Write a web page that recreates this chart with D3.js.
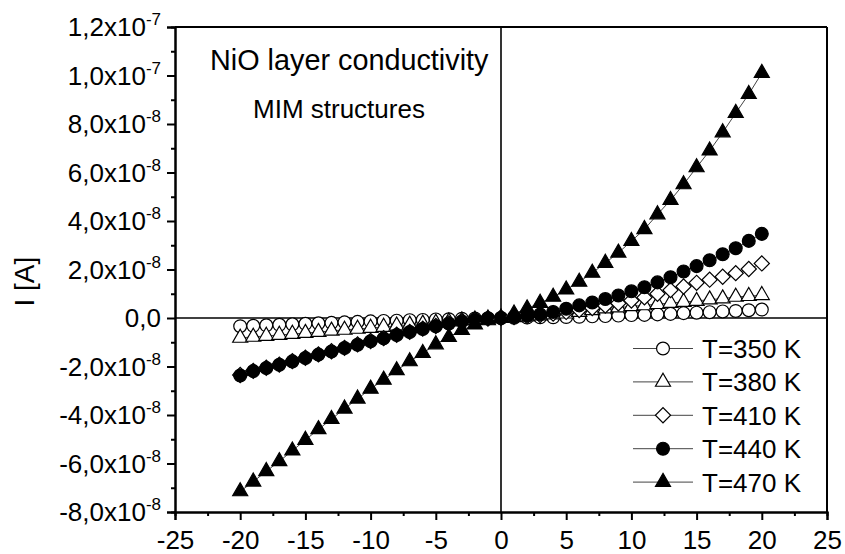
<!DOCTYPE html>
<html>
<head>
<meta charset="utf-8">
<script src="https://cdn.jsdelivr.net/npm/d3@7"></script>
<style>
  body { margin: 0; background: #fff; }
  text { font-family: "Liberation Sans", Arial, sans-serif; fill: #000; }
</style>
</head>
<body>
<div id="chart-area"></div>
<script>
// voltage [V]
let voltage = [-20,-19,-18,-17,-16,-15,-14,-13,-12,-11,-10,-9,-8,-7,-6,-5,-4,-3,-2,-1,0,
  1,2,3,4,5,6,7,8,9,10,11,12,13,14,15,16,17,18,19,20];

// current, in units of 1e-8 A
let i350 = [-0.34,-0.32,-0.30,-0.28,-0.26,-0.24,-0.22,-0.20,-0.18,-0.16,-0.14,-0.12,-0.11,-0.09,-0.08,-0.06,-0.05,-0.03,-0.02,-0.01,0,
  0.01,0.02,0.03,0.03,0.04,0.05,0.07,0.08,0.10,0.12,0.13,0.15,0.17,0.20,0.22,0.24,0.27,0.29,0.32,0.35];
let i380 = [-0.82,-0.78,-0.74,-0.70,-0.66,-0.62,-0.58,-0.53,-0.49,-0.45,-0.41,-0.37,-0.32,-0.28,-0.24,-0.20,-0.15,-0.11,-0.07,-0.03,0,
  0.03,0.06,0.10,0.14,0.18,0.25,0.32,0.39,0.43,0.48,0.52,0.57,0.62,0.66,0.70,0.76,0.80,0.87,0.90,0.94];
let i410 = [-2.35,-2.18,-2.05,-1.92,-1.78,-1.64,-1.50,-1.37,-1.23,-1.09,-0.95,-0.83,-0.69,-0.57,-0.44,-0.33,-0.22,-0.13,-0.07,-0.02,0,
  0.04,0.08,0.12,0.18,0.25,0.33,0.41,0.51,0.61,0.72,0.85,1.00,1.15,1.30,1.45,1.58,1.70,1.85,2.02,2.25];
let i440 = [-2.37,-2.19,-2.06,-1.93,-1.79,-1.65,-1.51,-1.38,-1.24,-1.10,-0.96,-0.84,-0.70,-0.58,-0.45,-0.34,-0.23,-0.14,-0.07,-0.02,0,
  0.04,0.09,0.15,0.25,0.38,0.52,0.64,0.78,0.93,1.10,1.27,1.47,1.68,1.92,2.14,2.38,2.63,2.88,3.18,3.47];
let i470 = [-7.15,-6.75,-6.32,-5.91,-5.47,-5.03,-4.59,-4.17,-3.74,-3.33,-2.92,-2.55,-2.16,-1.79,-1.45,-1.09,-0.79,-0.50,-0.27,-0.10,0,
  0.18,0.39,0.62,0.87,1.17,1.49,1.86,2.27,2.69,3.17,3.66,4.27,4.86,5.51,6.21,6.90,7.65,8.45,9.23,10.1];

let seriesNames = ["T=350 K", "T=380 K", "T=410 K", "T=440 K", "T=470 K"];
let seriesData = [i350, i380, i410, i440, i470];
let seriesSymbol = ["circle", "triangle", "diamond", "circle", "triangle"];
let seriesFilled = [false, false, false, true, true];

let xTicks = [-25,-20,-15,-10,-5,0,5,10,15,20,25];
let yTicks = [-8,-6,-4,-2,0,2,4,6,8,10,12];
let yTickMant = ["-8,0","-6,0","-4,0","-2,0","0,0","2,0","4,0","6,0","8,0","1,0","1,2"];
let yTickExp = ["-8","-8","-8","-8","","-8","-8","-8","-8","-7","-7"];

let width = 845, height = 554;
let margin = {top: 27, right: 18, bottom: 42, left: 175};

let svg = d3.select("#chart-area").append("svg")
  .attr("width", width)
  .attr("height", height);

let x = d3.scaleLinear().domain([-25, 25]).range([margin.left, width - margin.right]);
let y = d3.scaleLinear().domain([-8, 12]).range([height - margin.bottom, margin.top]);

let x0 = x.range()[0], x1 = x.range()[1], y0 = y.range()[0], y1 = y.range()[1];

// zero lines
svg.append("line").attr("x1", x0).attr("x2", x1).attr("y1", y(0)).attr("y2", y(0))
  .attr("stroke", "#000").attr("stroke-width", 1.6);
svg.append("line").attr("x1", x(0)).attr("x2", x(0)).attr("y1", y0).attr("y2", y1)
  .attr("stroke", "#000").attr("stroke-width", 1.6);

// axes
let xAxis = d3.axisBottom(x).tickValues(xTicks).tickSize(8).tickFormat(d => d);
let gx = svg.append("g").attr("transform", "translate(0," + y0 + ")").call(xAxis);
gx.selectAll(".tick text").attr("font-size", 26).attr("dy", null).attr("y", 36.5)
  .style("font-family", "'Liberation Sans', Arial, sans-serif");

let xMinor = d3.axisBottom(x).tickValues(xTicks.slice(0, -1).map(d => d + 2.5)).tickSize(4).tickFormat("");
svg.append("g").attr("transform", "translate(0," + y0 + ")").call(xMinor);

let yAxis = d3.axisLeft(y).tickValues(yTicks).tickSize(8).tickFormat("");
let gy = svg.append("g").attr("transform", "translate(" + x0 + ",0)").call(yAxis);

let yMinor = d3.axisLeft(y).tickValues(yTicks.slice(0, -1).map(d => d + 1)).tickSize(4).tickFormat("");
svg.append("g").attr("transform", "translate(" + x0 + ",0)").call(yMinor);

svg.selectAll(".domain").attr("stroke-width", 2);
svg.selectAll(".tick line").attr("stroke-width", 2);

// y tick labels with exponent
let ylab = svg.append("g").selectAll("text")
  .data(yTicks)
  .enter()
  .append("text")
  .attr("text-anchor", "end")
  .attr("x", 161)
  .attr("y", d => y(d) + 9.3)
  .attr("font-size", 26);
ylab.append("tspan").text((d, i) => yTickMant[i] + (yTickExp[i] ? "x10" : ""));
ylab.append("tspan").attr("font-size", 17).attr("dy", -11).text((d, i) => yTickExp[i]);

// frame top/right
svg.append("line").attr("x1", x0).attr("x2", x1).attr("y1", y1).attr("y2", y1)
  .attr("stroke", "#000").attr("stroke-width", 2);
svg.append("line").attr("x1", x1).attr("x2", x1).attr("y1", y1).attr("y2", y0)
  .attr("stroke", "#000").attr("stroke-width", 2);

// axis titles
svg.append("text")
  .attr("transform", "translate(33.5," + 281.7 + ") rotate(-90)")
  .attr("text-anchor", "middle")
  .attr("font-size", 28)
  .text("I [A]");

svg.append("text").attr("x", 210).attr("y", 70).attr("font-size", 28.8).text("NiO layer conductivity");
svg.append("text").attr("x", 253).attr("y", 118).attr("font-size", 26).text("MIM structures");

// symbols
function symbolPath(kind) {
  if (kind === "circle") return d3.symbol().type(d3.symbolCircle).size(130)();
  if (kind === "triangle") return d3.symbol().type(d3.symbolTriangle).size(98)();
  return d3.symbol().type(d3.symbolSquare).size(115)();
}

let line = d3.line().x(d => x(d[0])).y(d => y(d[1]));

seriesData.forEach((vals, s) => {
  let pts = voltage.map((v, i) => [v, vals[i]]);
  svg.append("path")
    .datum(pts)
    .attr("d", line)
    .attr("fill", "none")
    .attr("stroke", "#444")
    .attr("stroke-width", 1);
  svg.append("g").selectAll("path")
    .data(pts)
    .enter()
    .append("path")
    .attr("d", symbolPath(seriesSymbol[s]))
    .attr("transform", d => "translate(" + x(d[0]) + "," + y(d[1]) + ")" + (seriesSymbol[s] === "diamond" ? " rotate(45)" : ""))
    .attr("fill", seriesFilled[s] ? "#000" : "#fff")
    .attr("stroke", "#000")
    .attr("stroke-width", 1.2);
});

// legend
let legend = svg.append("g").selectAll("g")
  .data(seriesNames)
  .enter()
  .append("g")
  .attr("transform", (d, i) => "translate(0," + (358 + i * 33.4) + ")");
legend.append("line").attr("x1", 633).attr("x2", 693).attr("y1", -9.5).attr("y2", -9.5)
  .attr("stroke", "#444").attr("stroke-width", 1);
legend.append("path")
  .attr("d", (d, i) => symbolPath(seriesSymbol[i]))
  .attr("transform", (d, i) => "translate(663,-9.5)" + (seriesSymbol[i] === "diamond" ? " rotate(45)" : ""))
  .attr("fill", (d, i) => seriesFilled[i] ? "#000" : "#fff")
  .attr("stroke", "#000")
  .attr("stroke-width", 1.2);
legend.append("text").attr("x", 702).attr("font-size", 26).text(d => d);
</script>
</body>
</html>
